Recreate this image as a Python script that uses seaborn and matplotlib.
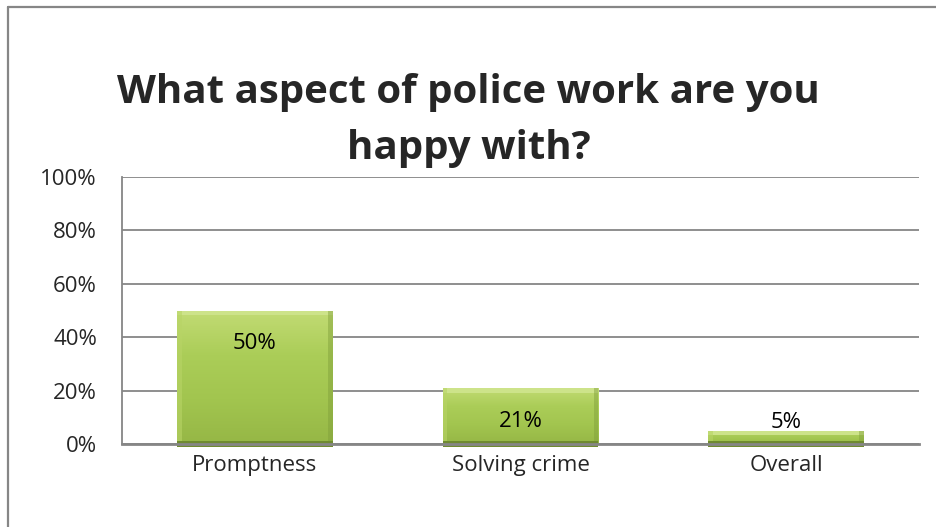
import numpy as np
import pandas as pd
import matplotlib
matplotlib.use("Agg")
import matplotlib.pyplot as plt
import seaborn as sns
from matplotlib.colors import LinearSegmentedColormap
from matplotlib.patches import Rectangle
from matplotlib.lines import Line2D

categories = ["Promptness", "Solving crime", "Overall"]
values = [50, 21, 5]
tick_values = [0, 20, 40, 60, 80, 100]
tick_labels = ["0%", "20%", "40%", "60%", "80%", "100%"]
title = "What aspect of police work are you\nhappy with?"

sns.set_style("white")
plt.rcParams["font.family"] = ["Open Sans", "DejaVu Sans"]

W, H = 937, 527
df = pd.DataFrame({"aspect": categories, "share": values})

fig = plt.figure(figsize=(W / 100, H / 100), dpi=100)
ax = fig.add_axes([122 / W, 1 - 444 / H, 797 / W, 267 / H])

sns.barplot(data=df, x="aspect", y="share", color="#a2c64f", width=0.585,
            saturation=1, ax=ax, edgecolor="none", zorder=3)

ax.set_ylim(0, 100)
ax.set_xlim(-0.5, 2.5)
ax.set_yticks(tick_values)
ax.set_yticklabels(tick_labels, fontsize=16)
ax.tick_params(axis="y", length=2, color="#868686", pad=16)
ax.tick_params(axis="x", length=0, labelsize=16, pad=8)
ax.set_xlabel("")
ax.set_ylabel("")
ax.yaxis.grid(True, color="#868686", linewidth=1.3, zorder=0)
for side in ["top", "right"]:
    ax.spines[side].set_visible(False)
ax.spines["left"].set_color("#868686")
ax.spines["left"].set_linewidth(1.3)
ax.spines["bottom"].set_color("#868686")
ax.spines["bottom"].set_linewidth(2)
ax.spines["bottom"].set_zorder(5)

# beveled gradient fill on each bar
grad = LinearSegmentedColormap.from_list(
    "bevel", ["#c2db74", "#abcd58", "#a2c54f", "#96b746"])
for patch in ax.patches:
    x0, y0 = patch.get_x(), patch.get_y()
    w, h = patch.get_width(), patch.get_height()
    img = np.linspace(0, 1, 100).reshape(-1, 1)
    im = ax.imshow(img, cmap=grad, aspect="auto", origin="upper",
                   extent=[x0, x0 + w, y0, y0 + h], zorder=3.5)
    im.set_clip_path(patch)
    bx = w * 0.03
    by = min(1.8, h * 0.3)
    ax.add_patch(Rectangle((x0, y0 + h - by), w, by, facecolor="#cde38a",
                           edgecolor="none", zorder=3.6))
    ax.add_patch(Rectangle((x0, y0), bx, h, facecolor="#b8d466",
                           edgecolor="none", alpha=0.6, zorder=3.6))
    ax.add_patch(Rectangle((x0 + w - bx, y0), bx, h, facecolor="#7f9e3a",
                           edgecolor="none", alpha=0.45, zorder=3.6))
    ax.add_patch(Rectangle((x0, y0 - 1.3), w, 1.3 + min(1.0, h * 0.2),
                           facecolor="#6f8a30", edgecolor="none", zorder=3.7,
                           clip_on=False))
    patch.set_visible(False)

# value labels: inside the bar when tall enough, above it otherwise
for i, v in enumerate(values):
    if v >= 15:
        ax.text(i, v - 12.5, f"{v}%", ha="center", va="center", fontsize=16,
                color="black", zorder=6)
    else:
        ax.text(i, v + 3, f"{v}%", ha="center", va="center", fontsize=16,
                color="black", zorder=6)

for k, line in enumerate(title.split("\n")):
    fig.text(0.5, 1 - (103 + 56 * k) / H, line, ha="center", va="baseline",
             fontsize=29, fontweight="bold")

# chart frame
fig.add_artist(Line2D([8 / W, 8 / W], [0, 1 - 7 / H], transform=fig.transFigure,
                      color="#868686", linewidth=1.6))
fig.add_artist(Line2D([8 / W, 1], [1 - 7 / H, 1 - 7 / H], transform=fig.transFigure,
                      color="#868686", linewidth=1.6))

fig.savefig("out.png", dpi=100)
